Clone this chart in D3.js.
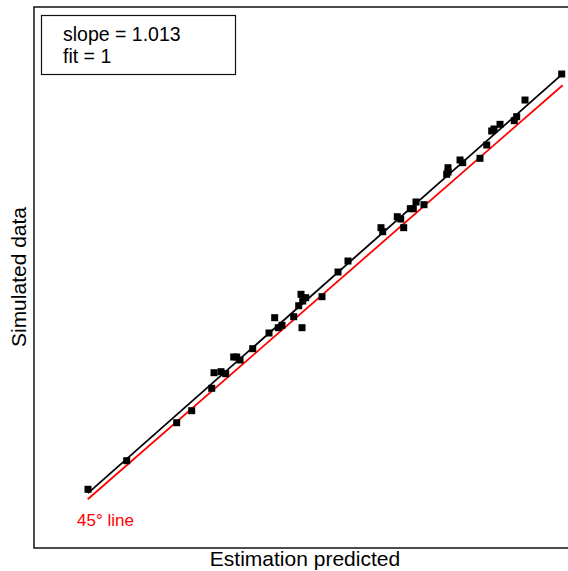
<!DOCTYPE html>
<html>
<head>
<meta charset="utf-8">
<script src="https://cdn.jsdelivr.net/npm/d3@7"></script>
<style>
  body { margin: 0; background: #fff; }
  text { font-family: "Liberation Sans", Arial, sans-serif; }
</style>
</head>
<body>
<script>
let svgWidth = 568
let svgHeight = 571

let margin = { top: 7, right: -12, bottom: 23, left: 34 }
let w = svgWidth - margin.left - margin.right
let h = svgHeight - margin.top - margin.bottom

// estimation predicted (x) vs simulated data (y)
let predicted = [10.11, 17.36, 26.72, 29.53, 33.28, 33.71, 35.02, 35.90, 37.40, 37.96,
    38.58, 40.96, 44.01, 45.07, 45.75, 46.44, 48.63, 49.57, 50.00, 50.19,
    50.32, 50.88, 53.93, 56.93, 58.80, 64.98, 65.30, 68.03, 68.67, 69.23,
    70.47, 71.03, 71.54, 73.03, 77.28, 77.53, 77.53, 79.78, 80.28, 83.52,
    84.78, 85.71, 86.14, 87.27, 89.94, 90.39, 91.95, 98.82]
let simulated = [12.21, 18.35, 26.51, 29.09, 33.90, 37.25, 37.47, 37.04, 40.62, 40.62,
    39.98, 42.41, 45.78, 49.07, 46.92, 47.43, 49.28, 51.64, 54.09, 46.92,
    52.65, 53.36, 53.58, 58.88, 61.24, 68.40, 67.54, 70.76, 70.26, 68.40,
    72.48, 72.48, 73.92, 73.34, 79.87, 81.28, 80.36, 82.94, 82.36, 83.30,
    86.16, 89.17, 89.60, 90.60, 91.38, 92.24, 95.82, 101.41]

let fitSlope = 1.013
let fitIntercept = 1.16
let identityRange = [10.06, 99.0]
let legendLines = ["slope = 1.013", "fit = 1"]

let xScale = d3.scaleLinear().domain([0, 100]).range([0, 534])
let yScale = d3.scaleLinear().domain([-0.4, 115.8]).range([h, 0])

let svg = d3.select("body").append("svg")
    .attr("width", svgWidth)
    .attr("height", svgHeight)

let g = svg.append("g")
    .attr("transform", "translate(" + margin.left + "," + margin.top + ")")

// frame
g.append("rect")
    .attr("x", 0).attr("y", 0)
    .attr("width", w).attr("height", h)
    .attr("fill", "none")
    .attr("stroke", "#111")
    .attr("stroke-width", 1.5)

let line = d3.line()
    .x(d => xScale(d[0]))
    .y(d => yScale(d[1]))

// 45 degree line
g.append("path")
    .datum(identityRange.map(v => [v, v]))
    .attr("d", line)
    .attr("stroke", "#ff0000")
    .attr("stroke-width", 1.8)
    .attr("fill", "none")

// fit line
let xExt = d3.extent(predicted)
g.append("path")
    .datum(xExt.map(v => [v, fitSlope * v + fitIntercept]))
    .attr("d", line)
    .attr("stroke", "#000")
    .attr("stroke-width", 1.8)
    .attr("fill", "none")

let sq = 7
g.selectAll("rect.pt")
    .data(predicted.map((p, i) => [p, simulated[i]]))
    .enter().append("rect")
    .attr("class", "pt")
    .attr("x", d => xScale(d[0]) - sq / 2)
    .attr("y", d => yScale(d[1]) - sq / 2)
    .attr("width", sq)
    .attr("height", sq)
    .attr("fill", "#000")

g.append("text")
    .attr("x", 43)
    .attr("y", 519)
    .attr("fill", "#ff0000")
    .attr("font-size", 17)
    .text("45° line")

// legend box
svg.append("rect")
    .attr("x", 41.5).attr("y", 15.5)
    .attr("width", 194).attr("height", 59)
    .attr("fill", "#fff")
    .attr("stroke", "#111")
    .attr("stroke-width", 1.2)

svg.selectAll("text.leg")
    .data(legendLines)
    .enter().append("text")
    .attr("class", "leg")
    .attr("x", 63)
    .attr("y", (d, i) => 41 + i * 22)
    .attr("font-size", 19.5)
    .text(d => d)

// axis titles
svg.append("text")
    .attr("x", 305)
    .attr("y", 566)
    .attr("text-anchor", "middle")
    .attr("font-size", 21)
    .text("Estimation predicted")

svg.append("text")
    .attr("transform", "rotate(-90)")
    .attr("x", -277)
    .attr("y", 26)
    .attr("text-anchor", "middle")
    .attr("font-size", 21)
    .text("Simulated data")
</script>
</body>
</html>
